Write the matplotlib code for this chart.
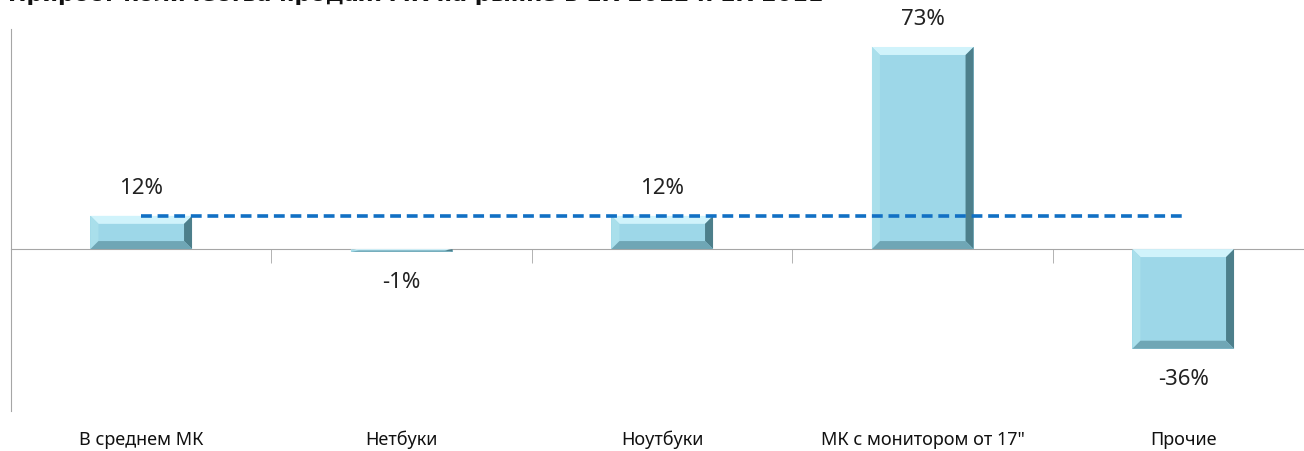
import numpy as np
import matplotlib.pyplot as plt
from matplotlib.patches import Polygon
import matplotlib.transforms as mtransforms

plt.rcParams['font.family'] = ['Noto Sans', 'DejaVu Sans']

categories = ["В среднем МК", "Нетбуки", "Ноутбуки", "МК с монитором от 17\"", "Прочие"]
values = [0.12, -0.01, 0.12, 0.73, -0.36]
value_labels = ["12%", "-1%", "12%", "73%", "-36%"]
average = 0.12
title = "Прирост количества продаж МК на рынке в 1К 2012 к 1К 2011"

W, H = 1304, 452
fig = plt.figure(figsize=(W / 100, H / 100), dpi=100)
ax = fig.add_axes([11 / W, 40 / H, 1302.5 / W, 382 / H])

x = np.arange(len(categories))
ax.set_xlim(-0.5, len(categories) - 0.5)
ax.set_ylim(-0.585, 0.795)

width = 0.39
face = "#9dd7e8"
ax.bar(x, values, width=width, color=face, edgecolor="none", zorder=2)

# bevel effect: px -> data units
px_x = (ax.get_xlim()[1] - ax.get_xlim()[0]) / 1302.5
px_y = (ax.get_ylim()[1] - ax.get_ylim()[0]) / 382
for xi, v in zip(x, values):
    x0, x1 = xi - width / 2, xi + width / 2
    y0, y1 = min(0, v), max(0, v)
    bw = 8 * px_x
    bh = min(8 * px_y, (y1 - y0) / 2)
    faces = [
        ([(x0, y1), (x1, y1), (x1 - bw, y1 - bh), (x0 + bw, y1 - bh)], "#d0f3fb"),
        ([(x0, y0), (x0, y1), (x0 + bw, y1 - bh), (x0 + bw, y0 + bh)], "#a9dfeb"),
        ([(x1, y0), (x1, y1), (x1 - bw, y1 - bh), (x1 - bw, y0 + bh)], "#4d7f8b"),
        ([(x0, y0), (x1, y0), (x1 - bw, y0 + bh), (x0 + bw, y0 + bh)], "#6fa6b5"),
    ]
    for pts, c in faces:
        ax.add_patch(Polygon(pts, closed=True, color=c, lw=0, zorder=3))

# average line
ax.plot([x[0], x[-1]], [average, average], color="#1170c4", lw=2.6,
        ls=(0, (3, 1.6)), zorder=4)

# value labels
for xi, v, lab in zip(x, values, value_labels):
    off = 28 if v > 0 else -30
    ax.annotate(lab, (xi, v), xytext=(0, off), textcoords="offset pixels",
                ha="center", va="center", fontsize=16, color="#222222")

# category labels at bottom
trans = mtransforms.blended_transform_factory(ax.transData, ax.transAxes)
for xi, c in zip(x, categories):
    ax.text(xi, -28 / 382, c, transform=trans, ha="center", va="center",
            fontsize=13, color="#111111")

for s in ["top", "right"]:
    ax.spines[s].set_visible(False)
ax.spines["left"].set_color("#a6a6a6")
ax.spines["bottom"].set_color("#a6a6a6")
ax.spines["bottom"].set_position(("data", 0))
ax.set_yticks([])
ax.set_xticks([])
ax.set_xticks(x[:-1] + 0.5, minor=True)
ax.tick_params(axis="x", which="minor", direction="out", length=10,
               color="#a6a6a6", labelbottom=False)

# title is clipped by the top edge, as in the source image
fig.text(0.006, 1 - 1.2 / H, title, ha="left", va="baseline",
         fontsize=16, fontweight="bold", family=["DejaVu Sans"], color="#111111")

fig.savefig("out.png", dpi=100)
